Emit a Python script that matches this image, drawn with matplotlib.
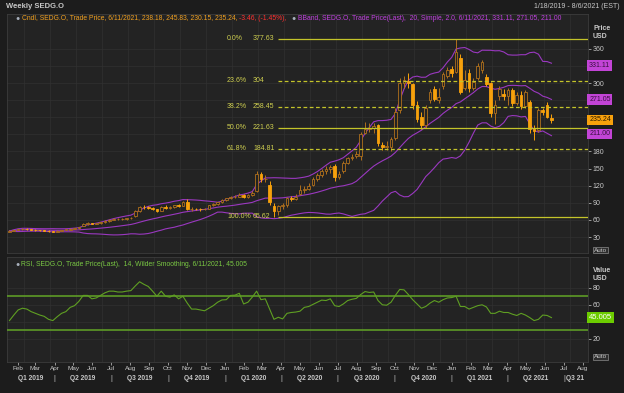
import numpy as np
import pandas as pd
import matplotlib
matplotlib.use("Agg")
import matplotlib.pyplot as plt
import matplotlib.transforms as mtrans

plt.rcParams['font.family'] = ['Liberation Sans', 'DejaVu Sans']

# weekly candles, 1/18/2019 .. 6/11/2021
weeks = pd.date_range('2019-01-18', '2021-06-11', freq='W-FRI')

opens = [39.5, 40.5, 42, 43.5, 44, 43.5, 42.5, 42, 41.5, 41,
         40, 39.5, 41, 42.5, 43, 44.5, 45.5, 49, 53, 54,
         53, 54, 56, 58, 60, 61, 61, 61.5, 62.5, 66,
         75, 83, 82, 81.5, 79, 76, 83, 81, 82, 86,
         85, 91, 79, 80, 79, 78.5, 80, 86, 88, 91,
         95, 98, 100, 101, 104, 100, 103, 110, 140, 131,
         122, 85, 75, 85, 86, 98, 97, 105, 112, 115,
         121, 132, 138, 145, 150, 155, 135, 145, 160, 168,
         172, 172, 212, 220, 222, 226, 192, 188, 188, 204,
         252, 300, 303, 298, 262, 240, 226, 270, 290, 270,
         295, 313, 324, 320, 344, 292, 318, 292, 309, 322,
         311, 300, 248, 278, 280, 278, 287, 265, 279, 260,
         267, 220, 218, 252, 262, 238.18]
highs = [41.5, 42.5, 44, 45, 45, 44, 43.5, 43, 42.5, 41.5,
         41, 41.5, 43, 44, 45, 46.5, 48, 54.5, 55.5, 55,
         55, 57, 59, 61, 62.5, 62.5, 63, 64, 65, 77,
         85, 86, 84, 82.5, 80, 84, 86, 84, 87, 88,
         93, 96, 82, 81.5, 80.5, 81, 87, 89.5, 92, 96,
         99, 102, 103, 107, 106, 105, 110, 145, 144, 139,
         128, 90, 86, 90, 100, 102, 105, 121, 119, 125,
         136, 142, 149, 155, 157, 158, 145, 163, 171, 176,
         180, 215, 232, 230, 230, 229, 197, 198, 206, 256,
         308, 312, 318, 300, 268, 250, 262, 290, 295, 292,
         320, 328, 330, 377.63, 350, 322, 325, 308, 335, 340,
         315, 302, 270, 295, 290, 292, 292, 284, 286, 288,
         270, 226, 256, 256, 266, 245.83]
lows = [38.5, 40, 41.5, 42.5, 42.5, 41.5, 41, 40.5, 40, 39,
        38.5, 39, 40.5, 41.5, 42.5, 43.5, 44.5, 48.5, 51.5, 52,
        52, 53.5, 55, 57, 59, 59.5, 60, 60.5, 61.5, 65,
        74, 80, 79.5, 77, 74.5, 75.5, 80, 79.5, 81, 83.5,
        84, 77, 76, 77, 76.5, 77, 79.5, 85, 87, 90,
        93.5, 96.5, 98, 100, 98, 98.5, 102, 109, 126, 126,
        86, 65.62, 69, 80, 83, 93, 95, 104, 108, 113,
        120, 129, 136, 141, 143, 128, 131, 143, 158, 165,
        168, 165, 210, 214, 213, 190, 183, 182, 180, 200,
        248, 292, 292, 255, 232, 220, 222, 265, 268, 265,
        290, 308, 310, 318, 280, 288, 285, 288, 305, 318,
        294, 240, 228, 270, 270, 262, 260, 262, 255, 256,
        212, 200, 214, 244, 238, 230.15]
closes = [40.5, 42, 43.5, 44, 43.5, 42.5, 42, 41.5, 41, 40,
          39.5, 41, 42.5, 43, 44.5, 45.5, 47, 53, 54, 53,
          54, 56, 58, 60, 61, 61, 61.5, 62.5, 63.5, 75,
          83, 82, 81.5, 79, 76, 83, 81, 82, 86, 85,
          91, 79, 80, 79, 78.5, 80, 86, 88, 91, 95,
          98, 100, 101, 104, 100, 103, 108, 140, 131, 132,
          92, 75, 85, 87, 98, 97, 100, 112, 115, 120,
          132, 138, 145, 150, 152, 135, 140, 160, 168, 171,
          175, 210, 220, 222, 225, 195, 187, 190, 202, 250,
          300, 305, 300, 262, 237, 226, 257, 284, 272, 275,
          315, 322, 318, 355, 285, 305, 292, 302, 330, 336,
          298, 248, 262, 290, 278, 287, 265, 279, 260, 284,
          220, 216, 253, 249, 240, 235.24]

# RSI(14, Wilder)
rsi = [41.5, 48, 54, 56, 55, 52, 50, 48, 46.5, 43,
       41.5, 46, 50, 52, 57, 59, 64, 71, 71, 67,
       68, 71, 74, 76, 76, 75, 75, 76, 76.6, 82,
       87, 84, 81.5, 76, 70, 76, 70, 69, 71.6, 67,
       70, 62, 55, 55, 54, 53, 56, 59, 63, 65.7,
       66, 71, 71.3, 73.5, 61, 63, 69, 76, 66, 67,
       55, 43, 45.4, 43.5, 50, 51, 51.5, 52.5, 57, 58,
       60.5, 63, 65.5, 65, 67, 59, 58, 61, 65, 66.5,
       67.5, 72, 75.5, 74.5, 75, 65, 60, 59.5, 63, 71,
       78, 77.5, 72, 66, 61, 56, 58, 62, 65, 63,
       66, 68, 68.5, 70, 58, 58, 55, 57, 59, 60,
       57.5, 50, 50, 52.5, 51, 51, 49, 47.5, 50, 48,
       45, 41.5, 43, 48, 47.5, 45.005]

fib_pcts = ['0.0%', '23.6%', '38.2%', '50.0%', '61.8%', '100.0%']
fib_levels = [377.63, 304, 258.45, 221.63, 184.81, 65.62]
fib_dashed = [False, True, True, False, True, False]

bb_last = [331.11, 271.05, 211.00]
last_close = 235.24
rsi_last = 45.005

quarter_names = ['Q1 2019', 'Q2 2019', 'Q3 2019', 'Q4 2019', 'Q1 2020', 'Q2 2020',
                 'Q3 2020', 'Q4 2020', 'Q1 2021', 'Q2 2021', 'Q3 21']

# colours
BG = '#232323'
FIG_BG = '#1c1c1c'
GRID = '#313131'
TXT = '#c8c8c8'
ORANGE = '#f7a10c'
HOLLOW = '#b0701c'
PURPLE = '#9a38c0'
MAGENTA = '#c244d6'
FIB = '#c4c42a'
FIB_TXT = '#cfcf50'
GREEN = '#62a526'

W, H = 624, 393
fig = plt.figure(figsize=(W / 100, H / 100), dpi=100, facecolor=FIG_BG)


def fx(px):
    return px / W


def fy(py):
    return 1 - py / H


ax = fig.add_axes([fx(7), fy(253), fx(588 - 7), (253 - 14) / H], facecolor=BG)
ax2 = fig.add_axes([fx(7), fy(362), fx(588 - 7), (362 - 257) / H], facecolor=BG, sharex=ax)

xmin, xmax = pd.Timestamp('2019-01-14'), pd.Timestamp('2021-08-09')
grid_x = pd.date_range('2019-02-10', xmax, freq='42D')

for a in (ax, ax2):
    a.set_xlim(xmin, xmax)
    for s in a.spines.values():
        s.set_color('#3c3c3c')
        s.set_linewidth(0.6)
    a.yaxis.tick_right()
    a.tick_params(axis='y', which='both', colors=TXT, labelsize=5, length=2,
                  width=0.5, pad=1.5)
    for g in grid_x:
        a.axvline(g, color=GRID, lw=0.5, zorder=0)
    a.grid(axis='y', which='both', color=GRID, lw=0.5, zorder=0)
    a.set_axisbelow(True)

# ---- price panel (labels under the value tags are hidden, as in the source)
ax.set_ylim(2, 421)
ax.set_yticks([30, 60, 90, 120, 150, 180, 300, 360])
ax.set_yticks([210, 240, 270, 330], minor=True)
ax.tick_params(axis='x', which='both', bottom=False, labelbottom=False)

o = np.array(opens)
h = np.array(highs)
l = np.array(lows)
c = np.array(closes)
up = c >= o
edge = np.where(up, HOLLOW, ORANGE)
face = np.where(up, BG, ORANGE)
body_lo = np.minimum(o, c)
body_h = np.maximum(np.abs(c - o), 0.8)

# bollinger bands 20, 2.0
s = pd.Series(closes)
mid = s.rolling(20, min_periods=1).mean()
sd = s.rolling(20, min_periods=1).std(ddof=0)
for band in (mid + 2 * sd, mid, mid - 2 * sd):
    ax.plot(weeks, band, color=PURPLE, lw=0.8, zorder=2)

ax.vlines(weeks, l, h, colors=edge, lw=0.7, zorder=3)
ax.bar(weeks, body_h, bottom=body_lo, width=4.3, color=face, edgecolor=edge,
       linewidth=0.6, zorder=4)

# fibonacci retracement
fib_start = weeks[62]
tr = mtrans.blended_transform_factory(ax.transAxes, ax.transData)
for pct, lev, dashed in zip(fib_pcts, fib_levels, fib_dashed):
    ax.hlines(lev, fib_start, xmax, colors=FIB, lw=0.9,
              linestyles=(0, (3, 2)) if dashed else 'solid', zorder=5)
    ax.text((227 - 7) / 581, lev, pct, transform=tr, color=FIB_TXT,
            fontsize=5, va='center', ha='left', zorder=6)
    ax.text((253 - 7) / 581, lev, f'{lev:g}', transform=tr, color=FIB_TXT,
            fontsize=5, va='center', ha='left', zorder=6)

# right-hand value tags
for v in bb_last:
    ax.text(1.002, v, f'{v:.2f}', transform=tr, fontsize=5, color='#3a1040',
            va='center', ha='left', clip_on=False, zorder=10,
            bbox=dict(boxstyle='square,pad=0.25', fc=MAGENTA, ec='none'))
ax.text(1.002, last_close, f'{last_close:.2f}', transform=tr, fontsize=5,
        color='#2a1a00', va='center', ha='left', clip_on=False, zorder=10,
        bbox=dict(boxstyle='square,pad=0.25', fc=ORANGE, ec='none'))

# ---- RSI panel
ax2.set_ylim(-7, 116)
ax2.set_yticks([20, 60, 80])
ax2.set_yticks([40], minor=True)
ax2.axhline(70, color=GREEN, lw=1.1, zorder=3)
ax2.axhline(30, color=GREEN, lw=1.1, zorder=3)
ax2.plot(weeks, rsi, color='#5f9f22', lw=0.8, zorder=4)
tr2 = mtrans.blended_transform_factory(ax2.transAxes, ax2.transData)
ax2.text(1.002, rsi_last, f'{rsi_last:.3f}', transform=tr2, fontsize=5.5,
         color='white', va='center', ha='left', clip_on=False, zorder=10,
         bbox=dict(boxstyle='square,pad=0.25', fc='#6ccc00', ec='none'))

months = pd.date_range('2019-02-01', '2021-08-01', freq='MS')
ax2.set_xticks(months)
ax2.set_xticklabels([m.strftime('%b') for m in months])
ax2.tick_params(axis='x', colors=TXT, labelsize=4.6, length=2, width=0.5, pad=1)

# quarter labels underneath
qstarts = pd.date_range('2019-04-01', '2021-07-01', freq='QS')
edges = [xmin] + list(qstarts) + [xmax]
trq = mtrans.blended_transform_factory(ax2.transData, fig.transFigure)
for name, a0, a1 in zip(quarter_names, edges[:-1], edges[1:]):
    if name == 'Q3 21':
        ax2.text(a0 + pd.Timedelta(days=3), fy(378), name, transform=trq, color=TXT,
                 fontsize=4.8, fontweight='bold', ha='left', va='center')
    else:
        ax2.text(a0 + (a1 - a0) / 2, fy(378), name, transform=trq, color=TXT,
                 fontsize=4.8, fontweight='bold', ha='center', va='center')
for q in qstarts:
    ax2.text(q, fy(378), '|', transform=trq, color=TXT, fontsize=4.8,
             ha='center', va='center')

# ---- header texts
fig.text(fx(6), fy(7), 'Weekly SEDG.O', color=TXT, fontsize=5.5, fontweight='bold',
         va='center')
fig.text(fx(620), fy(7), '1/18/2019 - 8/6/2021 (EST)', color=TXT, fontsize=5,
         va='center', ha='right')

fig.text(fx(15), fy(18), '\u25cf', color='#a8b0bc', fontsize=5, va='center')
fig.text(fx(22), fy(18), 'Cndl, SEDG.O, Trade Price, 6/11/2021, 238.18, 245.83, 230.15, 235.24,',
         color='#f0a020', fontsize=4.85, va='center')
fig.text(fx(239), fy(18), '-3.46, (-1.45%),', color='#ff3030', fontsize=4.85, va='center')
fig.text(fx(291), fy(18), '\u25cf', color='#a8b0bc', fontsize=5, va='center')
fig.text(fx(298), fy(18), 'BBand, SEDG.O, Trade Price(Last),  20, Simple, 2.0, 6/11/2021, 331.11, 271.05, 211.00',
         color='#c040e0', fontsize=4.85, va='center')

fig.text(fx(15), fy(264), '\u25cf', color='#a8b0bc', fontsize=5, va='center')
fig.text(fx(21), fy(264), 'RSI, SEDG.O, Trade Price(Last),  14, Wilder Smoothing, 6/11/2021, 45.005',
         color='#7ac943', fontsize=4.85, va='center')

for label, py in (('Price', 28), ('USD', 37), ('Value', 270), ('USD', 279)):
    fig.text(fx(593), fy(py), label, color=TXT, fontsize=5, fontweight='bold', va='center')

for py in (250, 357):
    fig.text(fx(594), fy(py), 'Auto', color=TXT, fontsize=4.6, va='center',
             bbox=dict(boxstyle='square,pad=0.15', fc='#2e2e2e', ec='#8a8a8a', lw=0.5))

fig.savefig('out.png', dpi=100, facecolor=FIG_BG)
